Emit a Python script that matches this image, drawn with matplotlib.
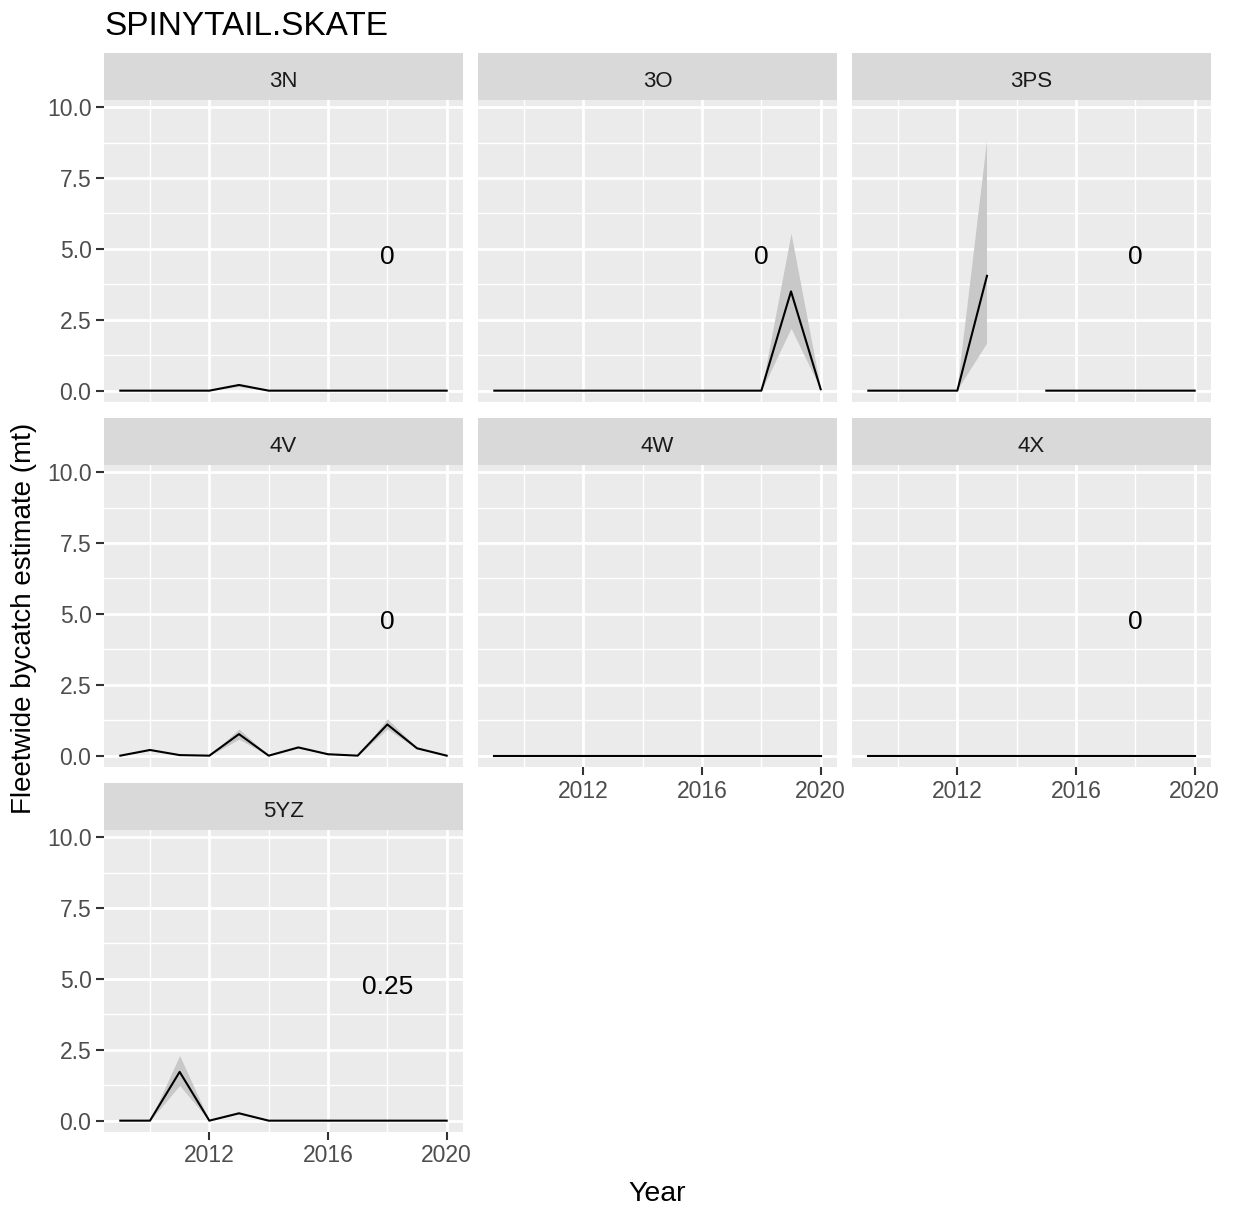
import numpy as np
import matplotlib
matplotlib.use('Agg')
import matplotlib.pyplot as plt

TITLE = 'SPINYTAIL.SKATE'
YEARS = [2009, 2010, 2011, 2012, 2013, 2014, 2015, 2016, 2017, 2018, 2019, 2020]
REGIONS = ['3N', '3O', '3PS', '4V', '4W', '4X', '5YZ']
nan = float('nan')

# fleetwide estimate per region, with lower / upper interval
EST_3N = [0, 0, 0, 0, 0.2, 0, 0, 0, 0, 0, 0, 0]
LO_3N = [0, 0, 0, 0, 0.15, 0, 0, 0, 0, 0, 0, 0]
HI_3N = [0, 0, 0, 0, 0.25, 0, 0, 0, 0, 0, 0, 0]

EST_3O = [0, 0, 0, 0, 0, 0, 0, 0, 0, 0, 3.5, 0.05]
LO_3O = [0, 0, 0, 0, 0, 0, 0, 0, 0, 0, 2.2, 0.05]
HI_3O = [0, 0, 0, 0, 0, 0, 0, 0, 0, 0, 5.55, 0.05]

EST_3PS = [0, 0, 0, 0, 4.05, nan, 0, 0, 0, 0, 0, 0]
LO_3PS = [0, 0, 0, 0, 1.65, nan, 0, 0, 0, 0, 0, 0]
HI_3PS = [0, 0, 0, 0, 8.8, nan, 0, 0, 0, 0, 0, 0]

EST_4V = [0, 0.2, 0.02, 0, 0.76, 0, 0.29, 0.05, 0, 1.1, 0.26, 0]
LO_4V = [0, 0.2, 0.02, 0, 0.58, 0, 0.27, 0.05, 0, 0.94, 0.24, 0]
HI_4V = [0, 0.2, 0.02, 0, 0.94, 0, 0.31, 0.05, 0, 1.3, 0.28, 0]

EST_4W = [0, 0, 0, 0, 0, 0, 0, 0, 0, 0, 0, 0]
LO_4W = [0, 0, 0, 0, 0, 0, 0, 0, 0, 0, 0, 0]
HI_4W = [0, 0, 0, 0, 0, 0, 0, 0, 0, 0, 0, 0]

EST_4X = [0, 0, 0, 0, 0, 0, 0, 0, 0, 0, 0, 0]
LO_4X = [0, 0, 0, 0, 0, 0, 0, 0, 0, 0, 0, 0]
HI_4X = [0, 0, 0, 0, 0, 0, 0, 0, 0, 0, 0, 0]

EST_5YZ = [0, 0, 1.72, 0, 0.26, 0, 0, 0, 0, 0, 0, 0]
LO_5YZ = [0, 0, 1.24, 0, 0.24, 0, 0, 0, 0, 0, 0, 0]
HI_5YZ = [0, 0, 2.3, 0, 0.28, 0, 0, 0, 0, 0, 0, 0]

# proportion label per region (None = no label)
LABELS = ['0', '0', '0', '0', None, '0', '0.25']
LABEL_X = 2018
LABEL_Y = 4.7

SERIES = {
    '3N': (EST_3N, LO_3N, HI_3N),
    '3O': (EST_3O, LO_3O, HI_3O),
    '3PS': (EST_3PS, LO_3PS, HI_3PS),
    '4V': (EST_4V, LO_4V, HI_4V),
    '4W': (EST_4W, LO_4W, HI_4W),
    '4X': (EST_4X, LO_4X, HI_4X),
    '5YZ': (EST_5YZ, LO_5YZ, HI_5YZ),
}

plt.rcParams['font.family'] = ['Liberation Sans', 'DejaVu Sans']

W, H = 1233, 1208
DPI = 100
fig = plt.figure(figsize=(W / DPI, H / DPI), dpi=DPI)

COL_X = [104, 478, 852]
ROW_Y = [53, 418, 783]
PANEL_W = 359
STRIP_H = 47
PANEL_H = 302


def px_box(x, y, w, h):
    return [x / W, 1 - (y + h) / H, w / W, h / H]


for i, reg in enumerate(REGIONS):
    r, c = divmod(i, 3)
    x0, y0 = COL_X[c], ROW_Y[r]

    strip = fig.add_axes(px_box(x0, y0, PANEL_W, STRIP_H))
    strip.set_facecolor('#D9D9D9')
    strip.set_xticks([])
    strip.set_yticks([])
    for s in strip.spines.values():
        s.set_visible(False)
    strip.text(0.5, 0.4, reg, ha='center', va='center', fontsize=16, color='#1A1A1A')

    ax = fig.add_axes(px_box(x0, y0 + STRIP_H, PANEL_W, PANEL_H))
    ax.set_facecolor('#EBEBEB')
    for s in ax.spines.values():
        s.set_visible(False)

    est, lo, hi = SERIES[reg]
    ax.fill_between(YEARS, lo, hi, color='#C8C8C8', linewidth=0, zorder=2)
    ax.plot(YEARS, est, color='black', linewidth=1.5, zorder=3)
    if LABELS[i] is not None:
        ax.text(LABEL_X, LABEL_Y, LABELS[i], ha='center', va='center', fontsize=19, color='black', zorder=4)

    ax.set_xlim(2008.45, 2020.55)
    ax.set_ylim(-0.4, 10.25)
    ax.set_xticks([2012, 2016, 2020])
    ax.set_xticks([2010, 2014, 2018], minor=True)
    ax.set_yticks([0, 2.5, 5, 7.5, 10])
    ax.set_yticks([1.25, 3.75, 6.25, 8.75], minor=True)
    ax.grid(which='major', color='white', linewidth=2.0, zorder=0)
    ax.grid(which='minor', color='white', linewidth=1.0, zorder=0)
    ax.set_axisbelow(True)

    ax.tick_params(which='minor', length=0)
    ax.tick_params(which='major', length=6, width=1.5, color='#333333', labelcolor='#4D4D4D', labelsize=16.5, pad=3)

    if c == 0:
        ax.set_yticklabels(['0.0', '2.5', '5.0', '7.5', '10.0'])
    else:
        ax.tick_params(axis='y', length=0, labelleft=False)

    bottom = (r == 2) or (r == 1 and c > 0)
    if bottom:
        ax.set_xticklabels(['2012', '2016', '2020'])
    else:
        ax.tick_params(axis='x', length=0, labelbottom=False)

fig.text(104 / W, 1 - 35 / H, TITLE, ha='left', va='baseline', fontsize=24, color='black')
fig.text(657 / W, 1 - 1201 / H, 'Year', ha='center', va='baseline', fontsize=20.5, color='black')
fig.text(24 / W, 1 - 618 / H, 'Fleetwide bycatch estimate (mt)', ha='center', va='center',
         rotation=90, fontsize=20, color='black')

fig.savefig('out.png', dpi=DPI, facecolor='white')
